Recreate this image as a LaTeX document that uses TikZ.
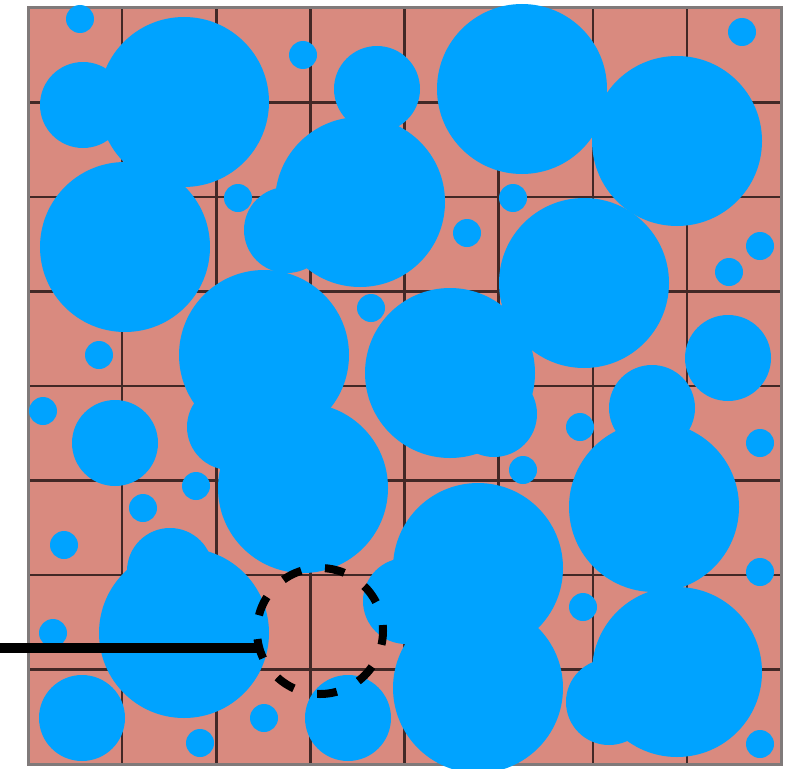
\documentclass[tikz,border=0pt]{standalone}
\usepackage{tikz}
\definecolor{tilepink}{RGB}{217,138,127}
\definecolor{poreblue}{RGB}{0,163,255}
\definecolor{seamdark}{RGB}{66,40,38}
\definecolor{rimgray}{RGB}{128,122,122}

\begin{document}
\begin{tikzpicture}[
        x=1pt, y=-1pt,
        seam/.style={draw=seamdark, line width=2.5pt},
        rim/.style={draw=rimgray, line width=3pt},
        pore/.style={fill=poreblue},
        hole/.style={
            circle,
            draw=black,
            line width=8pt,
            dash pattern=on 20pt off 24pt,
            dash phase=14pt,
            minimum size=126pt,
            inner sep=0pt,
            outer sep=0pt
        },
        leader/.style={draw=black, line width=10pt}
    ]
    \useasboundingbox (0,0) rectangle (786,768);

    % tiles and grid
    \fill[tilepink] (28,8) rectangle (781,764);
    \foreach \i in {1,...,7} {
        \draw[seam] ({28+\i*94.125},8) -- ({28+\i*94.125},764);
        \draw[seam] (28,{8+\i*94.5}) -- (781,{8+\i*94.5});
    }
    \draw[rim] (28,8) rectangle (781,764);

    % large pores
    \foreach \cx/\cy in {184/102, 125/247, 360/202, 522/89, 677/141, 584/283,
                         264/355, 450/373, 303/488, 654/507, 478/568, 184/633,
                         478/688, 677/672}
        \fill[pore] (\cx,\cy) circle[radius=85pt];

    % medium pores
    \foreach \cx/\cy in {83/105, 377/89, 287/230, 728/358, 494/414, 115/443,
                         230/427, 652/408, 406/601, 170/571, 82/718, 348/718,
                         609/702}
        \fill[pore] (\cx,\cy) circle[radius=43pt];

    % small pores
    \foreach \cx/\cy in {80/19, 303/55, 742/32, 238/198, 513/198, 467/233,
                         760/246, 729/272, 371/308, 99/355, 43/411, 580/427,
                         760/443, 523/470, 196/486, 143/508, 64/545, 760/572,
                         583/607, 53/633, 264/718, 200/743, 760/744}
        \fill[pore] (\cx,\cy) circle[radius=14pt];

    % marked gap
    \node[hole] (hole) at (320,631) {};
    \coordinate (lead) at (0,648);
    \draw[leader] (lead) -- (lead -| hole.195);

\end{tikzpicture}
\end{document}
